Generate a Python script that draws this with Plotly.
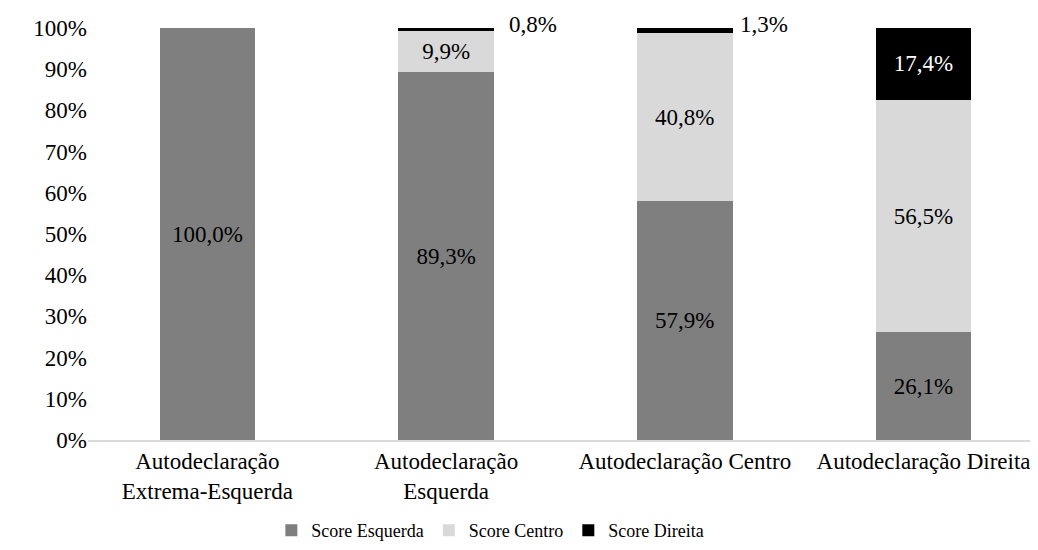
import plotly.graph_objects as go

categorias = ['Autodeclaração<br>Extrema-Esquerda', 'Autodeclaração<br>Esquerda',
              'Autodeclaração Centro', 'Autodeclaração Direita']
score_esquerda = [100.0, 89.3, 57.9, 26.1]
score_centro = [0.0, 9.9, 40.8, 56.5]
score_direita = [0.0, 0.8, 1.3, 17.4]

series = [('Score Esquerda', score_esquerda, '#7f7f7f'),
          ('Score Centro', score_centro, '#d9d9d9'),
          ('Score Direita', score_direita, '#000000')]

fonte = 'Liberation Serif'


def rotulo(v):
    # rótulo só dentro das barras largas o bastante
    if v < 5:
        return ''
    return f'{v:.1f}'.replace('.', ',') + '%'


data = []
for nome, vals, cor in series:
    data.append(go.Bar(x=categorias, y=vals, name=nome,
                       marker=dict(color=cor, line=dict(width=0)),
                       text=[rotulo(v) for v in vals],
                       textposition='inside', insidetextanchor='middle',
                       textangle=0,
                       textfont=dict(family=fonte, size=23,
                                     color='white' if cor == '#000000' else 'black')))

# rótulos das fatias pequenas, fora da barra à direita
desloc = [0, 61, 53, 0]
anotacoes = []
for i, v in enumerate(score_direita):
    if 0 < v < 5:
        topo = score_esquerda[i] + score_centro[i] + v
        anotacoes.append(dict(x=categorias[i], y=topo, xref='x', yref='y',
                              text=f'{v:.1f}'.replace('.', ',') + '%',
                              showarrow=False, xanchor='left', yanchor='middle',
                              xshift=desloc[i], yshift=4,
                              font=dict(family=fonte, size=23, color='black')))

layout = go.Layout(
    barmode='stack', bargap=0.6,
    width=1038, height=550,
    margin=dict(l=80, r=0, t=20, b=118),
    plot_bgcolor='white', paper_bgcolor='white',
    font=dict(family=fonte, size=23, color='black'),
    xaxis=dict(range=[-0.5, 3.513], showline=True, linecolor='#d9d9d9', linewidth=1.5,
               ticks='', tickfont=dict(size=23)),
    yaxis=dict(range=[0, 100], dtick=10, ticksuffix='%', showgrid=False,
               zeroline=False, showline=False, tickfont=dict(size=23)),
    legend=dict(orientation='h', x=0.42, xanchor='center', y=-0.175, yanchor='top',
                font=dict(size=18), traceorder='normal'),
    annotations=anotacoes,
    showlegend=True,
)

fig = go.Figure(data, layout)
fig.write_html('out.html')
